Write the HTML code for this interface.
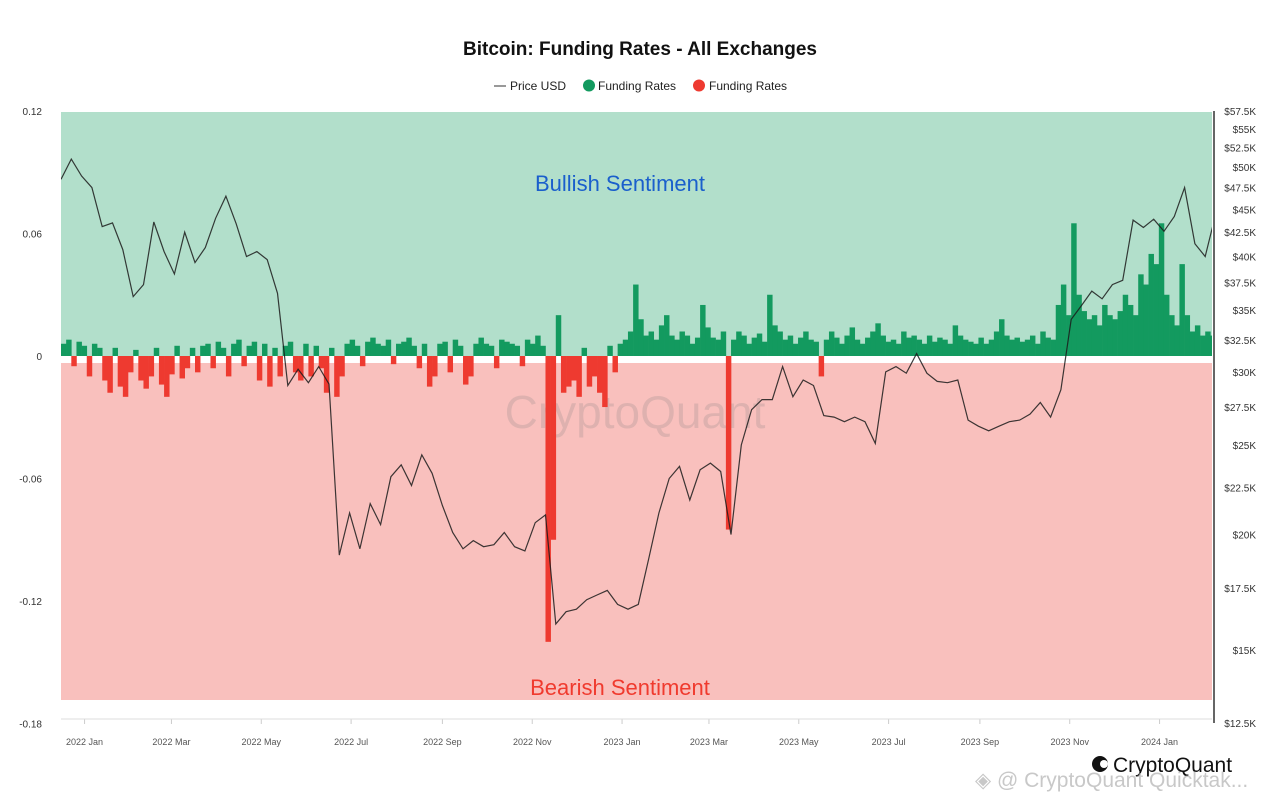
<!DOCTYPE html>
<html><head><meta charset="utf-8"><style>
body{margin:0;background:#fff;font-family:"Liberation Sans",sans-serif}
svg{display:block}
</style></head><body>
<svg id="c" width="1280" height="806" xmlns="http://www.w3.org/2000/svg">
<defs><clipPath id="plotclip"><rect x="61" y="100" width="1151" height="620"/></clipPath></defs>
<text x="640" y="55" text-anchor="middle" font-size="19" font-weight="bold" fill="#111">Bitcoin: Funding Rates - All Exchanges</text>
<g font-size="12" fill="#222">
<g><line x1="494" y1="86" x2="506" y2="86" stroke="#333"/><text x="510" y="90">Price USD</text></g>
<g><circle cx="589" cy="85.5" r="6" fill="#139a5f"/><text x="598" y="90">Funding Rates</text></g>
<g><circle cx="699" cy="85.5" r="6" fill="#ee3a30"/><text x="709" y="90">Funding Rates</text></g>
</g>
<rect x="61" y="112" width="1151" height="244" fill="#b2dfcb"/>
<rect x="61" y="363" width="1151" height="337" fill="#f9c0bd"/>
<text x="620" y="191" text-anchor="middle" font-size="22" fill="#1a5fcc">Bullish Sentiment</text>
<text x="620" y="695" text-anchor="middle" font-size="22" fill="#f03a2e">Bearish Sentiment</text>
<text x="635" y="428" text-anchor="middle" font-size="46" fill="#c9a6a4" opacity="0.55">CryptoQuant</text>
<g id="bars" clip-path="url(#plotclip)"></g>
<g id="price" clip-path="url(#plotclip)"></g>
<g id="axes" font-size="10" fill="#333"></g>
<line x1="1214" y1="111" x2="1214" y2="723" stroke="#333" stroke-width="1.5"/>
<line x1="61" y1="719" x2="1212" y2="719" stroke="#ddd"/>
<g>
<circle cx="1100" cy="764" r="8" fill="#111"/><circle cx="1104" cy="764" r="4" fill="#fff"/>
<text x="1113" y="772" font-size="21" fill="#111">CryptoQuant</text>
</g>
<text x="975" y="787" font-size="21" fill="#bbb" opacity="0.8">◈ @ CryptoQuant Quicktak...</text>
</svg>
<script>
const priceK=[48.5,51,48.9,47.5,43.1,43.5,40.7,36.2,37.3,43.6,40.5,38.3,42.5,39.4,40.9,44.0,46.5,43.4,40.0,40.5,39.7,36.5,29.0,30.2,29.2,30.4,29.1,19.0,21.1,19.3,21.6,20.5,23.1,23.8,22.6,24.4,23.3,21.5,20.1,19.3,19.7,19.4,19.5,20.1,19.4,19.2,20.6,21.0,16.0,16.5,16.6,17.0,17.2,17.4,16.8,16.6,16.8,18.8,21.1,23.0,23.7,21.8,23.5,23.9,23.4,20.0,25.0,27.3,28.0,28.0,30.4,28.2,29.4,29.0,26.9,26.8,26.5,26.8,26.5,25.1,30.0,30.4,29.9,31.4,29.9,29.3,29.2,29.4,26.6,26.2,25.9,26.2,26.5,26.6,27.0,27.8,26.8,28.7,34.2,35.4,36.7,36.0,37.3,37.7,43.8,43.0,43.9,42.6,44.2,47.5,41.3,40.0,43.1,43.0];
const funding=[0.006,0.008,-0.005,0.007,0.005,-0.01,0.006,0.004,
-0.012,-0.018,0.004,-0.015,-0.02,-0.008,0.003,-0.012,-0.016,-0.01,0.004,-0.014,-0.02,-0.009,0.005,-0.011,-0.006,0.004,-0.008,
0.005,0.006,-0.006,0.007,0.004,-0.01,0.006,0.008,-0.005,0.005,0.007,-0.012,
0.006,-0.015,0.004,-0.01,0.005,0.007,-0.008,-0.012,0.006,-0.01,0.005,-0.006,-0.018,0.004,
-0.02,-0.01,0.006,0.008,0.005,-0.005,0.007,0.009,0.006,0.005,0.008,-0.004,0.006,0.007,0.009,0.005,-0.006,0.006,
-0.015,-0.01,0.006,0.007,-0.008,0.008,0.005,-0.014,-0.01,0.006,0.009,0.006,0.005,-0.006,0.008,0.007,0.006,0.005,-0.005,0.008,0.006,0.01,0.005,
-0.14,-0.09,
0.02,-0.018,-0.015,-0.012,-0.02,0.004,-0.015,-0.01,-0.018,-0.025,0.005,-0.008,
0.006,0.008,0.012,0.035,0.018,0.01,0.012,0.008,0.015,0.02,0.01,0.008,0.012,0.01,0.006,0.009,0.025,0.014,0.009,0.008,0.012,
-0.085,
0.008,0.012,0.01,0.006,0.009,0.011,0.007,0.03,0.015,0.012,0.008,0.01,0.006,0.009,0.012,0.008,0.007,-0.01,0.008,0.012,0.009,0.006,0.01,0.014,0.008,0.006,0.009,0.012,0.016,0.01,0.007,0.008,0.006,0.012,0.009,0.01,0.008,0.006,0.01,0.007,0.009,0.008,0.006,0.015,0.01,0.008,0.007,0.006,0.009,0.006,0.008,0.012,0.018,0.01,0.008,0.009,0.007,0.008,0.01,0.006,0.012,0.009,0.008,
0.025,0.035,0.02,0.065,0.03,0.022,0.018,0.02,0.015,0.025,0.02,0.018,0.022,0.03,0.025,0.02,0.04,0.035,0.05,0.045,0.065,0.03,0.02,0.015,0.045,0.02,0.012,0.015,0.01,0.012,0.01,0.015];
const leftTicks=[0.12,0.06,0,-0.06,-0.12,-0.18];
const leftLabels=["0.12","0.06","0","-0.06","-0.12","-0.18"];
const rightTicks=[57.5,55,52.5,50,47.5,45,42.5,40,37.5,35,32.5,30,27.5,25,22.5,20,17.5,15,12.5];
const monthLabels=["2022 Jan","2022 Mar","2022 May","2022 Jul","2022 Sep","2022 Nov","2023 Jan","2023 Mar","2023 May","2023 Jul","2023 Sep","2023 Nov","2024 Jan"];
const monthDays=[16,75,136,197,259,320,381,440,501,562,624,685,746];
const NS="http://www.w3.org/2000/svg";
const X0=61,PXD=1.4726;
const xDay=d=>X0+d*PXD;
const yL=v=>356-v*2041.7;
const yR=k=>111+Math.log(57.5/k)/Math.log(57.5/12.5)*612;
function mk(t,a,p){const e=document.createElementNS(NS,t);for(const k in a)e.setAttribute(k,a[k]);p.appendChild(e);return e;}
const bars=document.getElementById('bars');
const step=3.5;
funding.forEach((v,i)=>{
  const x=xDay(i*step);
  const y0=yL(0),y1=yL(v);
  const r=mk('rect',{x:x,y:Math.min(y0,y1),width:step*PXD+0.3,height:Math.max(1,Math.abs(y1-y0)),fill:v>=0?'#139a5f':'#ee3a30'},bars);
  
  
});
const pr=document.getElementById('price');
const pts=priceK.map((k,i)=>xDay(Math.min(i*7,782)).toFixed(1)+','+yR(k).toFixed(1)).join(' ');
const pl=mk('polyline',{points:pts,fill:'none',stroke:'#1b1b1b','stroke-width':1.2,'stroke-opacity':0.85},pr);


const ax=document.getElementById('axes');
leftTicks.forEach((v,i)=>{
  const t=mk('text',{x:42,y:yL(v)+4,'text-anchor':'end'},ax);t.textContent=leftLabels[i];
  
  
});
rightTicks.forEach(k=>{
  const t=mk('text',{x:1256,y:yR(k)+4,'text-anchor':'end'},ax);t.textContent='$'+k+'K';
  
  
});
monthLabels.forEach((m,i)=>{
  const x=xDay(monthDays[i]);
  const l=mk('line',{x1:x,y1:719,x2:x,y2:724,stroke:'#ccc'},ax);
  
  
  const t=mk('text',{x:x,y:745,'text-anchor':'middle','font-size':9,fill:'#555'},ax);t.textContent=m;
  
  
});
</script>
</body></html>
